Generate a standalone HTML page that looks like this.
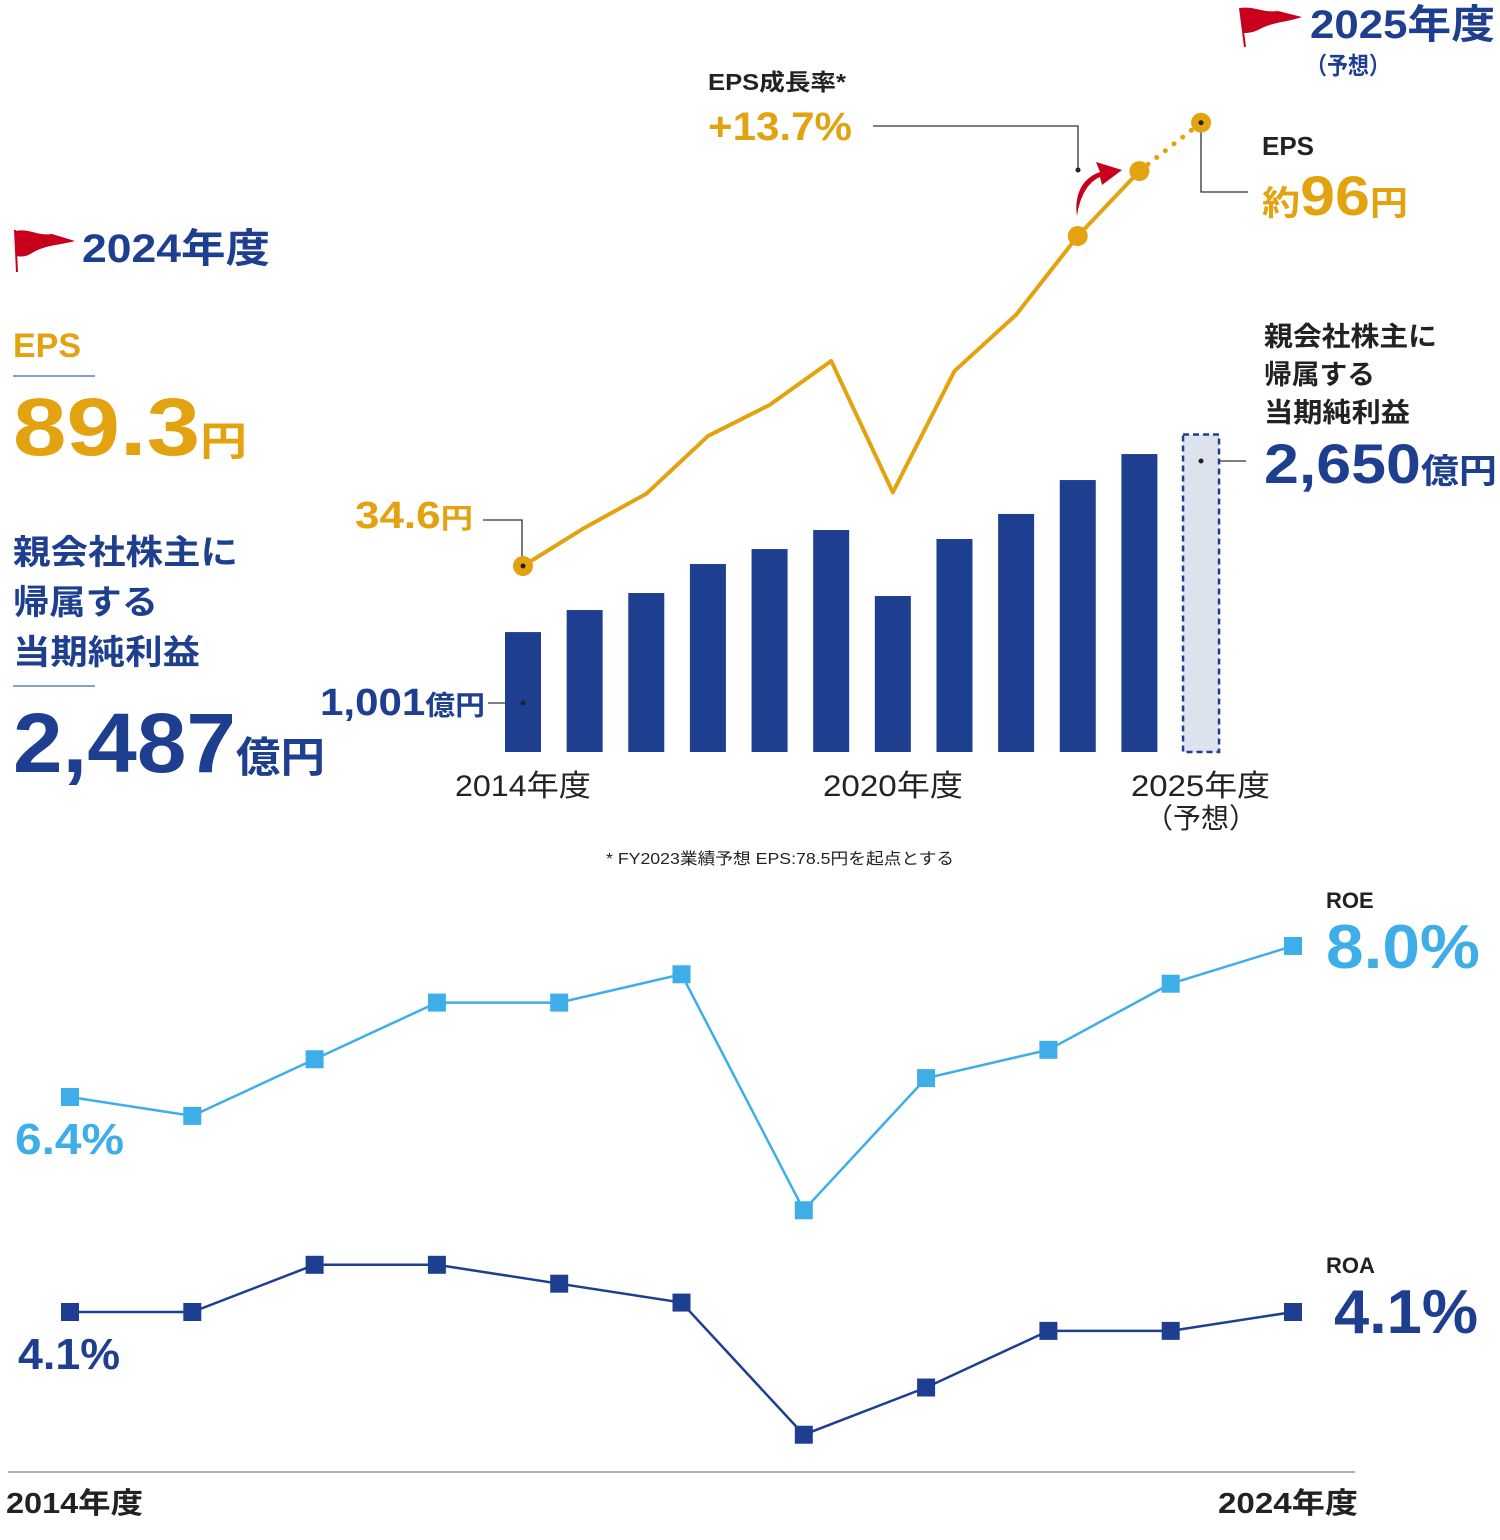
<!DOCTYPE html>
<html><head><meta charset="utf-8"><style>
html,body{margin:0;padding:0;background:#fff}
svg{display:block}
text{font-family:"Liberation Sans","Noto Sans CJK JP",sans-serif}
</style></head><body>
<svg id="c" width="1500" height="1540" viewBox="0 0 1500 1540" xmlns="http://www.w3.org/2000/svg">
<g id="static">
<g>
<line x1="15" y1="230" x2="17" y2="272" stroke="#c8001e" stroke-width="2"/>
<path d="M15 231 C30 228 36 236 52 234 L75 241 C60 245 45 245 32 253 C26 257 20 257 17 256 Z" fill="#c8001e"/>
</g>
<text x="82" y="262" font-size="40" font-weight="bold" fill="#1e3f8f" textLength="188" lengthAdjust="spacingAndGlyphs">2024年度</text>
<g>
<line x1="1240" y1="8" x2="1245" y2="47" stroke="#c8001e" stroke-width="2"/>
<path d="M1240 8 C1255 6 1262 13 1278 11 L1302 17 C1288 22 1272 22 1258 30 C1252 33 1246 33 1243 33 Z" fill="#c8001e"/>
</g>
<text x="1310" y="38" font-size="40" font-weight="bold" fill="#1e3f8f" textLength="185" lengthAdjust="spacingAndGlyphs">2025年度</text>
<text x="1306" y="74" font-size="24" font-weight="bold" fill="#1e3f8f" textLength="84" lengthAdjust="spacingAndGlyphs">（予想）</text>

<text x="13" y="357" font-size="34" font-weight="bold" fill="#e3a20f">EPS</text>
<line x1="13" y1="376" x2="95" y2="376" stroke="#1e3f8f" stroke-width="1"/>
<text x="13" y="455" font-size="82" font-weight="bold" fill="#e3a20f" textLength="234" lengthAdjust="spacingAndGlyphs">89.3<tspan font-size="40">円</tspan></text>
<text x="13" y="564" font-size="34" font-weight="bold" fill="#1e3f8f" textLength="225" lengthAdjust="spacingAndGlyphs">親会社株主に</text>
<text x="13" y="614" font-size="34" font-weight="bold" fill="#1e3f8f" textLength="145" lengthAdjust="spacingAndGlyphs">帰属する</text>
<text x="13" y="664" font-size="34" font-weight="bold" fill="#1e3f8f" textLength="187" lengthAdjust="spacingAndGlyphs">当期純利益</text>
<line x1="13" y1="686" x2="95" y2="686" stroke="#1e3f8f" stroke-width="1"/>
<text x="13" y="772" font-size="84" font-weight="bold" fill="#1e3f8f" textLength="312" lengthAdjust="spacingAndGlyphs">2,487<tspan font-size="42">億円</tspan></text>

<text x="708" y="90" font-size="23" font-weight="bold" fill="#222" textLength="138" lengthAdjust="spacingAndGlyphs">EPS成長率*</text>
<text x="708" y="140" font-size="40" font-weight="bold" fill="#e3a20f" textLength="144" lengthAdjust="spacingAndGlyphs">+13.7%</text>
<polyline points="873,126 1078,126 1078,170" fill="none" stroke="#333" stroke-width="1.3"/>
<circle cx="1078" cy="170" r="2.5" fill="#222"/>
<path d="M1077 216 C1074 195 1082 178 1100 172 L1096 162 L1122 170 L1102 185 L1100 177 C1088 182 1080 196 1077 216 Z" fill="#c8001e"/>
<text x="1262" y="155" font-size="26" font-weight="bold" fill="#222">EPS</text>
<text x="1262" y="215" font-size="56" font-weight="bold" fill="#e3a20f" textLength="146" lengthAdjust="spacingAndGlyphs"><tspan font-size="34">約</tspan>96<tspan font-size="34">円</tspan></text>
<polyline points="1201,123 1201,192 1248,192" fill="none" stroke="#333" stroke-width="1.3"/>
<text x="355" y="528" font-size="38" font-weight="bold" fill="#e3a20f" textLength="118" lengthAdjust="spacingAndGlyphs">34.6<tspan font-size="28">円</tspan></text>
<polyline points="483,520 522,520 522,566" fill="none" stroke="#333" stroke-width="1.3"/>
<text x="320" y="715" font-size="38" font-weight="bold" fill="#1e3f8f" textLength="165" lengthAdjust="spacingAndGlyphs">1,001<tspan font-size="27">億円</tspan></text>
<line x1="488" y1="703" x2="523" y2="703" stroke="#333" stroke-width="1.3"/>
<text x="1264" y="346" font-size="27" font-weight="bold" fill="#222" textLength="173" lengthAdjust="spacingAndGlyphs">親会社株主に</text>
<text x="1264" y="384" font-size="27" font-weight="bold" fill="#222" textLength="111" lengthAdjust="spacingAndGlyphs">帰属する</text>
<text x="1264" y="422" font-size="27" font-weight="bold" fill="#222" textLength="146" lengthAdjust="spacingAndGlyphs">当期純利益</text>
<text x="1264" y="483" font-size="56" font-weight="bold" fill="#1e3f8f" textLength="233" lengthAdjust="spacingAndGlyphs">2,650<tspan font-size="34">億円</tspan></text>
<line x1="1201" y1="461" x2="1246" y2="461" stroke="#333" stroke-width="1.3"/>

<text x="455" y="796" font-size="30" fill="#222" textLength="136" lengthAdjust="spacingAndGlyphs">2014年度</text>
<text x="823" y="796" font-size="30" fill="#222" textLength="140" lengthAdjust="spacingAndGlyphs">2020年度</text>
<text x="1131" y="796" font-size="30" fill="#222" textLength="139" lengthAdjust="spacingAndGlyphs">2025年度</text>
<text x="1201" y="828" font-size="28" fill="#222" text-anchor="middle">（予想）</text>
<text x="606" y="864" font-size="16" fill="#222" textLength="348" lengthAdjust="spacingAndGlyphs">* FY2023業績予想 EPS:78.5円を起点とする</text>

<text x="1326" y="908" font-size="22" font-weight="bold" fill="#222">ROE</text>
<text x="1326" y="968" font-size="62" font-weight="bold" fill="#3eaee8" textLength="154" lengthAdjust="spacingAndGlyphs">8.0%</text>
<text x="15" y="1154" font-size="44" font-weight="bold" fill="#3eaee8" textLength="109" lengthAdjust="spacingAndGlyphs">6.4%</text>
<text x="1326" y="1273" font-size="22" font-weight="bold" fill="#222">ROA</text>
<text x="1334" y="1333" font-size="62" font-weight="bold" fill="#1e3f8f" textLength="144" lengthAdjust="spacingAndGlyphs">4.1%</text>
<text x="18" y="1369" font-size="44" font-weight="bold" fill="#1e3f8f" textLength="102" lengthAdjust="spacingAndGlyphs">4.1%</text>
<line x1="8" y1="1472" x2="1355" y2="1472" stroke="#999" stroke-width="1.5"/>
<text x="6" y="1513" font-size="29" font-weight="bold" fill="#222" textLength="137" lengthAdjust="spacingAndGlyphs">2014年度</text>
<text x="1218" y="1513" font-size="29" font-weight="bold" fill="#222" textLength="140" lengthAdjust="spacingAndGlyphs">2024年度</text>
</g>
<g id="marks"></g>
</svg>
<script>
const years = ["2014","2015","2016","2017","2018","2019","2020","2021","2022","2023","2024","2025"];
const netIncome = [1001,1185,1327,1569,1694,1853,1302,1778,1987,2270,2487,2650];
const eps = [34.6,39.9,44.6,52.6,56.9,63.0,44.8,61.6,69.4,80.3,89.3,96];
const roeYears = ["2014","2015","2016","2017","2018","2019","2020","2021","2022","2023","2024"];
const roe = [6.4,6.2,6.8,7.4,7.4,7.7,5.2,6.6,6.9,7.6,8.0];
const roa = [4.1,4.1,4.6,4.6,4.4,4.2,2.8,3.3,3.9,3.9,4.1];

const NS="http://www.w3.org/2000/svg";
const g=document.getElementById('marks');
function mk(t,a){const e=document.createElementNS(NS,t);for(const k in a)e.setAttribute(k,a[k]);g.appendChild(e);return e;}
const xBar=i=>523+i*61.64;
const yBar=v=>752-v*0.1198;
const yEps=v=>566-(v-34.6)*7.22;
const xR=i=>70+i*122.3;
const yRoe=v=>1097-(v-6.4)*94.4;
const yRoa=v=>1312-(v-4.1)*94.4;

netIncome.forEach((v,i)=>{
  const last=i===netIncome.length-1;
  const r=mk('rect',{x:xBar(i)-18,y:yBar(v),width:36,height:752-yBar(v),
    fill:last?'#dde3ee':'#1e3f8f',stroke:last?'#1e3f8f':'none','stroke-width':last?2.5:0,'stroke-dasharray':last?'6 4':''});
  
  
});
mk('circle',{cx:xBar(0),cy:703,r:2.5,fill:'#222'});
mk('circle',{cx:xBar(11),cy:461,r:2.5,fill:'#222'});

const n=eps.length;
const pts=eps.slice(0,n-1).map((v,i)=>xBar(i)+','+yEps(v)).join(' ');
const el=mk('polyline',{points:pts,fill:'none',stroke:'#e3a20f','stroke-width':4,'stroke-linejoin':'round'});


const fl=mk('line',{x1:xBar(n-2),y1:yEps(eps[n-2]),x2:xBar(n-1),y2:yEps(eps[n-1]),stroke:'#e3a20f','stroke-width':5,'stroke-dasharray':'0 11','stroke-linecap':'round'});


[0,9,10,11].forEach(i=>{
  const c=mk('circle',{cx:xBar(i),cy:yEps(eps[i]),r:10,fill:'#e3a20f'});
  
  
});
mk('circle',{cx:xBar(0),cy:yEps(eps[0]),r:2.5,fill:'#222'});
mk('circle',{cx:xBar(11),cy:yEps(eps[11]),r:2.5,fill:'#222'});

function series(arr,yf,color,name){
  const l=mk('polyline',{points:arr.map((v,i)=>xR(i)+','+yf(v)).join(' '),fill:'none',stroke:color,'stroke-width':2.5});
  
  
  arr.forEach((v,i)=>{
    const s=mk('rect',{x:xR(i)-9,y:yf(v)-9,width:18,height:18,fill:color});
    
    
  });
}
series(roe,yRoe,'#3eaee8','roe');
series(roa,yRoa,'#1e3f8f','roa');
</script>
</body></html>
